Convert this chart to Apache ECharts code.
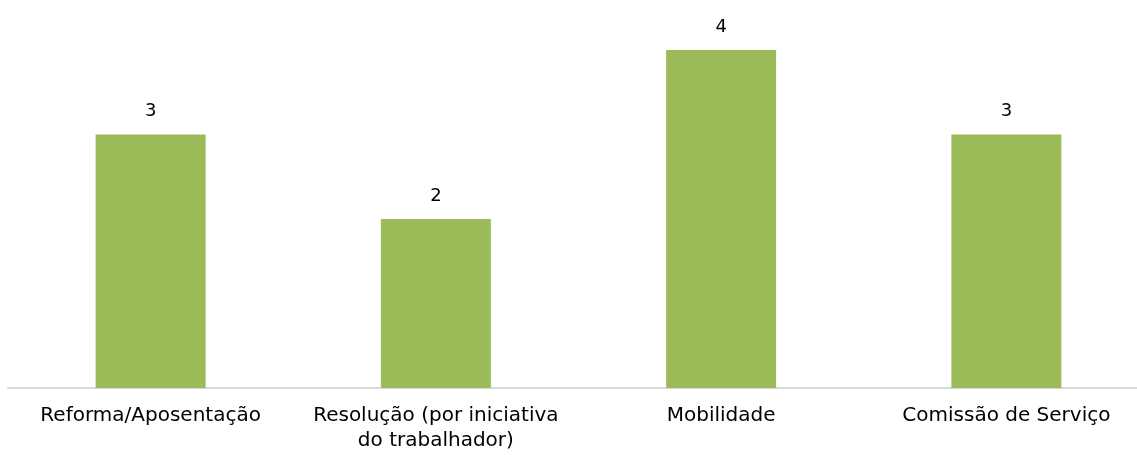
<!DOCTYPE html>
<html>
<head>
<meta charset="utf-8">
<script src="https://cdn.jsdelivr.net/npm/echarts@6/dist/echarts.min.js"></script>
<style>
  html, body { margin: 0; padding: 0; background: #fff; }
  #main { width: 1137px; height: 455px; }
</style>
</head>
<body>
<div id="main"></div>
<script>
var categories = ['Reforma/Aposentação', 'Resolução (por iniciativa\ndo trabalhador)', 'Mobilidade', 'Comissão de Serviço'];
var values = [3, 2, 4, 3];

var chart = echarts.init(document.getElementById('main'), null, { renderer: 'canvas' });
var option = {
  animation: false,
  // plot runs a bit past the right edge, like the original
  grid: { left: 8, right: -12, top: 50, bottom: 67, outerBoundsMode: 'none' },
  xAxis: {
    type: 'category',
    data: categories,
    axisLine: { lineStyle: { color: '#d9d9d9', width: 2 } },
    axisTick: { show: false },
    axisLabel: {
      color: '#000',
      fontFamily: 'DejaVu Sans',
      fontSize: 20,
      lineHeight: 25,
      margin: 15,
      interval: 0
    }
  },
  yAxis: {
    type: 'value',
    min: 0,
    max: 4,
    show: false,
    splitLine: { show: false }
  },
  series: [{
    type: 'bar',
    data: values,
    barWidth: 110,
    itemStyle: { color: '#9bbb59' },
    label: {
      show: true,
      position: 'top',
      distance: 14,
      color: '#000',
      fontFamily: 'DejaVu Sans',
      fontSize: 18
    }
  }]
};
chart.setOption(option);
</script>
</body>
</html>
